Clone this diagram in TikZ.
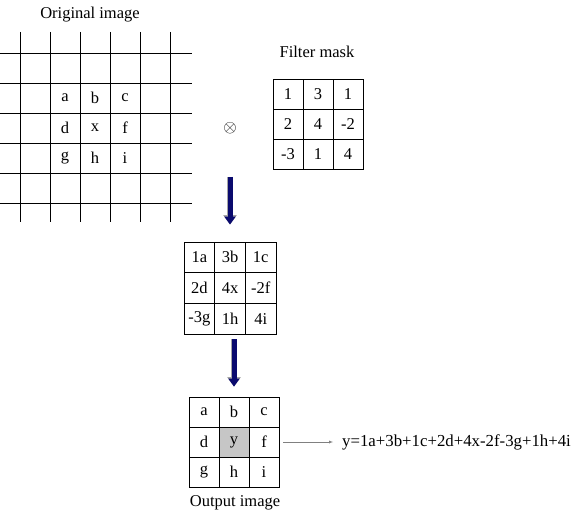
\documentclass[tikz,border=0pt]{standalone}
\usepackage{fontspec}
\setmainfont{Liberation Serif}
\usetikzlibrary{arrows.meta, matrix}

\definecolor{navy}{RGB}{10,10,110}

\begin{document}
\begin{tikzpicture}[> = latex, x = 1pt, y = -1pt,
	font = \fontsize{16.5}{18}\selectfont,
	cell/.style = {draw, minimum size = 30pt, inner sep = 0pt, anchor = center},
	grid/.style = {matrix of nodes, inner sep = 0pt, nodes = {cell}, column sep = -0.4pt, row sep = -0.4pt},
	bigarrow/.style = {line width = 5pt, navy, -{Triangle[width = 11pt, length = 8pt]},
		preaction = {draw, line width = 6.5pt, gray!70, -{Triangle[width = 13pt, length = 9.5pt]}}}]

	% Page

	\useasboundingbox (0, 0) rectangle (576, 513);

	% Definitions

	\def\S{30}		% Cell size
	\def\N{5} 		% Number of grid lines minus one

	% Original image grid

	\node (origlabel) at (90, 15) {Original image};
	\foreach \n in {0, 1, ..., \N}
		\draw [line width = 0.9pt] ({20 + \n * \S}, 32) -- ({20 + \n * \S}, 222);
	\foreach \n in {0, 1, ..., \N}
		\draw [line width = 0.9pt] (0, {53 + \n * \S}) -- (192, {53 + \n * \S});
	\foreach \row [count = \r] in {{a, b, c}, {d, x, f}, {g, h, i}}
		\foreach \t [count = \c] in \row
			\node (orig-\r-\c) at ({35 + \c * \S}, {68 + \r * \S}) {\t};

	% Filter mask

	\node (masklabel) at (317, 52) {Filter mask};
	\matrix (mask) [grid] at (318, 124) {
		1 & 3 & 1 \\
		2 & 4 & -2 \\
		-3 & 1 & 4 \\
	};

	% Convolution sign

	\node [inner sep = 0pt] (conv) at (230, 128) {\fontsize{17}{17}\selectfont $\otimes$};

	% Products

	\matrix (prod) [grid, nodes = {minimum size = 30.7pt}] at (230, 288) {
		1a & 3b & 1c \\
		2d & 4x & -2f \\
		-3g & 1h & 4i \\
	};

	% Output image

	\matrix (out) [grid] at (234, 442) {
		a & b & c \\
		d & |[fill = gray!45]| y & f \\
		g & h & i \\
	};
	\node (outlabel) at (235, 503) {Output image};
	\node [anchor = west, inner sep = 0pt] (eq) at (342, 442) {\fontsize{16.8}{18}\selectfont y=1a+3b+1c+2d+4x-2f-3g+1h+4i};

	% Arrows

	\draw [bigarrow, shorten <= 43pt, shorten >= 17pt] (conv.south) -- (prod.north);
	\draw [bigarrow, shorten <= 5pt, shorten >= 10pt] (prod.south -| out.north) -- (out.north);
	\draw [->, gray, shorten <= 4pt, shorten >= 9pt] (out.east) -- (eq.west);

\end{tikzpicture}
\end{document}
